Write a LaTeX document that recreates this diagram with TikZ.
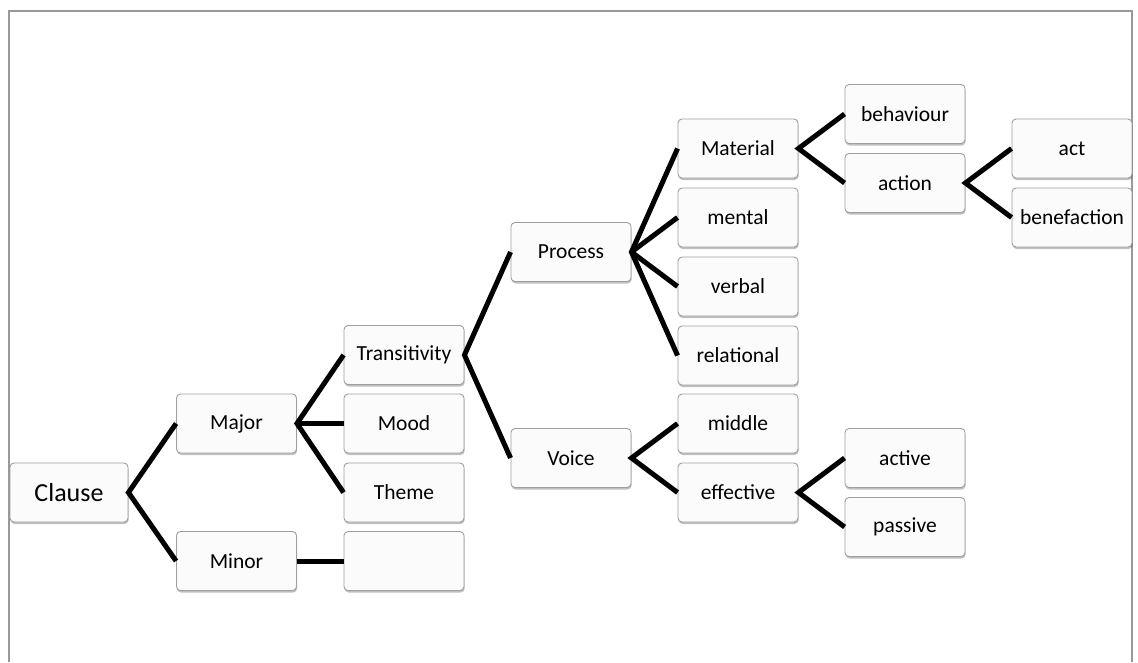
\documentclass[tikz,border=0pt]{standalone}
\usepackage{fontspec}
\setmainfont{Carlito}
\usetikzlibrary{shadows}
\begin{document}
\begin{tikzpicture}[x=1pt,y=-1pt,
  box/.style={draw=gray!75, line width=0.9pt, fill=gray!3, rounded corners=4pt,
    minimum width=120pt, minimum height=59pt, inner sep=0pt,
    font=\fontsize{21.5}{25}\selectfont,
    drop shadow={shadow xshift=0.6pt, shadow yshift=-2pt, opacity=0.25, fill=black}},
  conn/.style={line width=5pt, black, line join=miter}]
\useasboundingbox (0,0) rectangle (1138,662);
\draw[gray!80, line width=1.6pt] (9,662) -- (9,11) -- (1132,11) -- (1132,662);
% nodes
\node[box, minimum width=118pt, font=\fontsize{26}{30}\selectfont] (clause) at (69,492.5) {Clause};
\node[box] (major) at (236.5,423.5) {Major};
\node[box] (minor) at (236.5,561) {Minor};
\node[box] (trans) at (404,355) {Transitivity};
\node[box] (mood) at (404,423.5) {Mood};
\node[box] (theme) at (404,492.5) {Theme};
\node[box] (empty) at (404,561) {};
\node[box] (process) at (571,252) {Process};
\node[box] (voice) at (571,458) {Voice};
\node[box] (material) at (738,148.5) {Material};
\node[box] (mental) at (738,217.5) {mental};
\node[box] (verbal) at (738,286.5) {verbal};
\node[box] (relational) at (738,355.5) {relational};
\node[box] (middle) at (738,423.5) {middle};
\node[box] (effective) at (738,492.5) {effective};
\node[box] (behaviour) at (905,114) {behaviour};
\node[box] (action) at (905,183) {action};
\node[box] (act) at (1072,148.5) {act};
\node[box] (benefaction) at (1072,217.5) {benefaction};
\node[box] (active) at (905,458) {active};
\node[box] (passive) at (905,527) {passive};
% connectors
\draw[conn] (major.west) -- (clause.east) -- (minor.west);
\draw[conn] (trans.west) -- (major.east) -- (theme.west);
\draw[conn] (major.east) -- (mood.west);
\draw[conn] (minor.east) -- (empty.west);
\draw[conn] (process.west) -- (trans.east) -- (voice.west);
\draw[conn] (material.west) -- (process.east) -- (relational.west);
\draw[conn] (process.east) -- (mental.west);
\draw[conn] (process.east) -- (verbal.west);
\draw[conn] (middle.west) -- (voice.east) -- (effective.west);
\draw[conn] (behaviour.west) -- (material.east) -- (action.west);
\draw[conn] (act.west) -- (action.east) -- (benefaction.west);
\draw[conn] (active.west) -- (effective.east) -- (passive.west);
\end{tikzpicture}
\end{document}
